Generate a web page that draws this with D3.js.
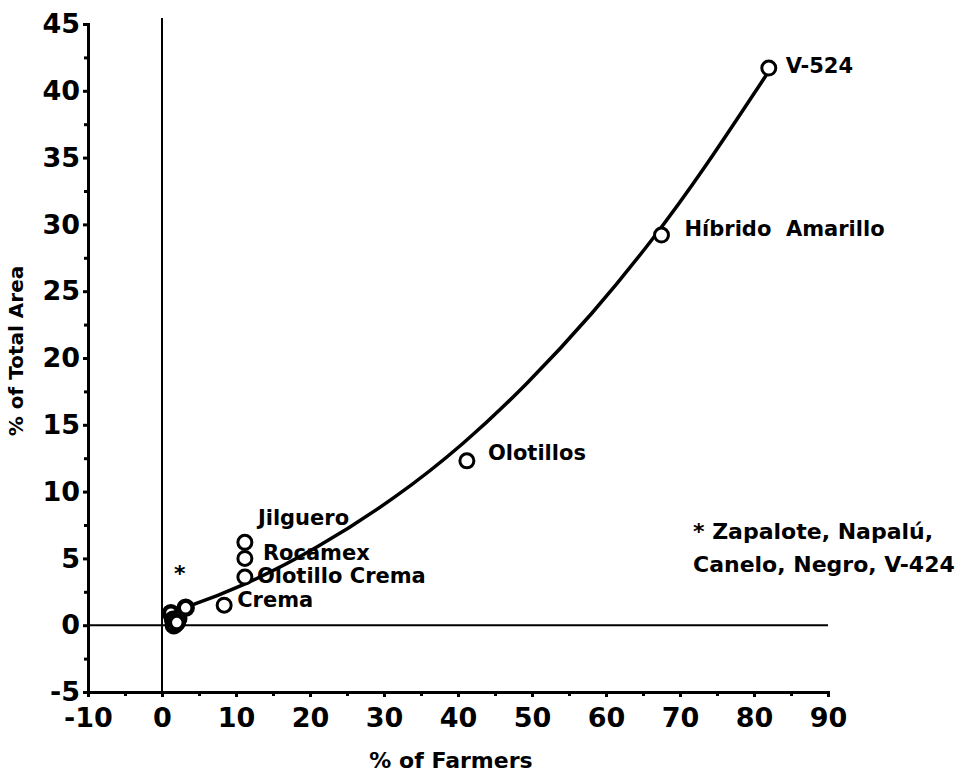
<!DOCTYPE html>
<html>
<head>
<meta charset="utf-8">
<script src="https://cdn.jsdelivr.net/npm/d3@7"></script>
<style>
  body { margin: 0; background: #fff; }
  svg text { font-family: 'DejaVu Sans', sans-serif; font-weight: bold; fill: #000; }
</style>
</head>
<body>
<div id="chart"></div>
<script>
// labelled varieties
const names = ['V-524', 'Híbrido  Amarillo', 'Olotillos', 'Jilguero', 'Rocamex', 'Olotillo Crema', 'Crema'];
const farmers = [82, 67.5, 41.2, 11.2, 11.2, 11.2, 8.4];
const area = [41.7, 29.2, 12.3, 6.2, 5.0, 3.6, 1.5];

// unlabelled varieties (the * group near the origin)
const smallFarmers = [1.2, 1.5, 1.8, 2.2, 1.6, 2.0, 3.2];
const smallArea = [0.9, 0.4, 0.1, 0.5, 0.0, 0.2, 1.3];

// fitted curve
const curveX = [1.1, 3.1, 10.5, 20.9, 31.8, 40.7, 49.3, 58.2, 66.4, 73.1, 81.8];
const curveY = [1.0, 1.3, 2.8, 5.7, 9.6, 13.5, 18.0, 23.3, 28.9, 34.0, 41.3];

const xTicks = [-10, 0, 10, 20, 30, 40, 50, 60, 70, 80, 90];
const yTicks = [-5, 0, 5, 10, 15, 20, 25, 30, 35, 40, 45];
const noteLines = ['* Zapalote, Napalú,', 'Canelo, Negro, V-424'];

// label placement relative to its circle (px)
const labelOffset = {
  'V-524': [17, -2],
  'Híbrido  Amarillo': [23, -6],
  'Olotillos': [21, -8],
  'Jilguero': [13, -25],
  'Rocamex': [18, -6],
  'Olotillo Crema': [12, -1],
  'Crema': [13, -6]
};

const W = 959, H = 775;
const svg = d3.select('#chart').append('svg').attr('width', W).attr('height', H);

const x = d3.scaleLinear().domain([-10, 90]).range([88, 828]);
const y = d3.scaleLinear().domain([-5, 45]).range([692, 24]);

const fmt = d => String(d);

// axes
const yAxis = svg.append('g')
  .attr('transform', `translate(${x(-10)},0)`)
  .call(d3.axisLeft(y).tickValues(yTicks).tickSize(5).tickPadding(3).tickFormat(fmt));
const yMinor = svg.append('g')
  .attr('transform', `translate(${x(-10)},0)`)
  .call(d3.axisLeft(y).tickValues(yTicks.slice(0, -1).map(d => d + 2.5)).tickSize(4).tickFormat(''));

const xAxis = svg.append('g')
  .attr('transform', `translate(0,${y(-5)})`)
  .call(d3.axisBottom(x).tickValues(xTicks).tickSize(5).tickPadding(11).tickFormat(fmt));
const xMinor = svg.append('g')
  .attr('transform', `translate(0,${y(-5)})`)
  .call(d3.axisBottom(x).tickValues(xTicks.slice(0, -1).map(d => d + 5)).tickSize(4).tickFormat(''));

[yAxis, yMinor, xAxis, xMinor].forEach(g => {
  g.select('.domain').attr('stroke', '#000').attr('stroke-width', 3);
  g.selectAll('.tick line').attr('stroke', '#000').attr('stroke-width', 3);
});
[yAxis, xAxis].forEach(g => {
  g.selectAll('.tick text')
    .style('font-size', '27px')
    .style('font-family', "'DejaVu Sans', sans-serif")
    .style('font-weight', 'bold');
});

// zero reference lines
svg.append('line')
  .attr('x1', x(0)).attr('x2', x(0))
  .attr('y1', y(45) - 6).attr('y2', y(-5))
  .attr('stroke', '#000').attr('stroke-width', 2);
svg.append('line')
  .attr('x1', x(-10)).attr('x2', x(90))
  .attr('y1', y(0)).attr('y2', y(0))
  .attr('stroke', '#000').attr('stroke-width', 2);

// fitted line
const line = d3.line().x(d => x(d[0])).y(d => y(d[1])).curve(d3.curveBasis);
svg.append('path')
  .datum(curveX.map((v, i) => [v, curveY[i]]))
  .attr('d', line)
  .attr('fill', 'none')
  .attr('stroke', '#000')
  .attr('stroke-width', 3.5);

// circles
const pts = names.map((n, i) => ({ name: n, fx: farmers[i], fy: area[i] }));
const small = smallFarmers.map((v, i) => ({ fx: v, fy: smallArea[i] }));

svg.selectAll('circle.small')
  .data(small)
  .enter().append('circle')
  .attr('class', 'small')
  .attr('cx', d => x(d.fx)).attr('cy', d => y(d.fy))
  .attr('r', 7)
  .attr('fill', '#fff')
  .attr('stroke', '#000')
  .attr('stroke-width', 4.5);

svg.selectAll('circle.main')
  .data(pts)
  .enter().append('circle')
  .attr('class', 'main')
  .attr('cx', d => x(d.fx)).attr('cy', d => y(d.fy))
  .attr('r', 7)
  .attr('fill', '#fff')
  .attr('stroke', '#000')
  .attr('stroke-width', 3);

svg.selectAll('text.lab')
  .data(pts)
  .enter().append('text')
  .attr('class', 'lab')
  .attr('x', d => x(d.fx) + labelOffset[d.name][0])
  .attr('y', d => y(d.fy) + labelOffset[d.name][1])
  .attr('dy', '0.35em')
  .style('font-size', '21px')
  .style('white-space', 'pre')
  .text(d => d.name);

// asterisk marking the small group
svg.append('text')
  .attr('x', x(2.4)).attr('y', y(3.9))
  .attr('text-anchor', 'middle')
  .attr('dy', '0.35em')
  .style('font-size', '22px')
  .text('*');

// note
svg.selectAll('text.note')
  .data(noteLines)
  .enter().append('text')
  .attr('class', 'note')
  .attr('x', 693)
  .attr('y', (d, i) => 531 + i * 33)
  .attr('dy', '0.35em')
  .style('font-size', '22px')
  .text(d => d);

// axis titles
svg.append('text')
  .attr('x', 451)
  .attr('y', 760)
  .attr('dy', '0.35em')
  .attr('text-anchor', 'middle')
  .style('font-size', '22px')
  .text('% of Farmers');

svg.append('text')
  .attr('transform', `translate(16,351) rotate(-90)`)
  .attr('dy', '0.35em')
  .attr('text-anchor', 'middle')
  .style('font-size', '20px')
  .text('% of Total Area');
</script>
</body>
</html>
